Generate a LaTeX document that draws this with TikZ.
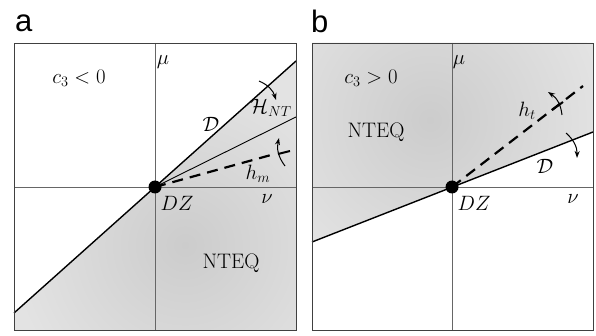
\documentclass[tikz,border=0pt]{standalone}
\usepackage{fontspec}
\newfontfamily\panelfont{Liberation Sans}
\usetikzlibrary{arrows.meta}
\tikzset{
  frame/.style={draw=black!75, line width=0.9pt},
  axis/.style={draw=black!60, line width=0.8pt},
  dline/.style={draw=black, line width=1.4pt},
  hline/.style={draw=black, line width=0.9pt},
  dashline/.style={draw=black, line width=2.2pt, dash pattern=on 11pt off 7pt},
  tickmark/.style={draw=black, line width=2pt},
  turn/.style={draw=black, line width=1pt, -{Stealth[length=7pt,width=5pt]}},
  lab/.style={font=\fontsize{20.74}{25}\selectfont, inner sep=0pt},
  panel/.style={font=\panelfont\fontsize{31}{34}\selectfont, inner sep=0pt, anchor=base west},
  dotstyle/.style={circle, fill=black, minimum size=13pt, inner sep=0pt}
}
\begin{document}
\begin{tikzpicture}[x=1pt,y=-1pt]
\useasboundingbox (0,0) rectangle (596,336);
% ---------------- panel a ----------------
\coordinate (aTL) at (14,43);
\coordinate (aBR) at (296,330);
\coordinate (aO) at (155,187);
\coordinate (aDl) at (14,313);
\coordinate (aDr) at (296,61);
\coordinate (aH) at (296,117);
\coordinate (aM) at (271,155);
\begin{scope}
  \clip (aDl) -- (aDr) -- (296,330) -- (14,330) -- cycle;
  \fill[gray!22] (aDl) -- (aDr) -- (296,330) -- (14,330) -- cycle;
  \shade[inner color=gray!40, outer color=gray!22] (185,245) circle[radius=175];
\end{scope}
\draw[axis] (155,43) -- (155,330);
\draw[axis] (14,187) -- (296,187);
\draw[dline] (aDl) -- (aDr);
\draw[hline] (aO) -- (aH);
\draw[dashline] (aO) -- (aM);
\draw[tickmark] (278,154) -- (290,151);
\draw[turn] (285,166) to[bend left=25] (279,138);
\draw[turn] (259,81) to[bend left=25] (276,100);
\draw[frame] (aTL) rectangle (aBR);
\node[dotstyle] (aDZ) at (aO) {};
\node[panel] (la) at (15,32) {a};
\node[lab] (ac) at (79,78) {$c_3<0$};
\node[lab] (amu) at (163,62) {$\mu$};
\node[lab] (aD) at (211,124) {$\mathcal{D}$};
\node[lab] (aHNT) at (271,108) {$\mathcal{H}_{NT}$};
\node[lab] (ahm) at (258,174) {$h_m$};
\node[lab] (aDZl) at (177,203) {$DZ$};
\node[lab] (anu) at (267,199) {$\nu$};
\node[lab, font=\fontsize{21}{25}\selectfont] (aN) at (231,263) {NTEQ};
% ---------------- panel b ----------------
\coordinate (bTL) at (312,43);
\coordinate (bBR) at (593,330);
\coordinate (bO) at (452,187);
\coordinate (bDl) at (312,242);
\coordinate (bDr) at (593,132);
\coordinate (bT) at (583,86);
\begin{scope}
  \clip (bDl) -- (bDr) -- (593,43) -- (312,43) -- cycle;
  \fill[gray!22] (bDl) -- (bDr) -- (593,43) -- (312,43) -- cycle;
  \shade[inner color=gray!40, outer color=gray!22] (430,120) circle[radius=175];
\end{scope}
\draw[axis] (452,43) -- (452,330);
\draw[axis] (312,187) -- (593,187);
\draw[dline] (bDl) -- (bDr);
\draw[dashline] (bO) -- (bT);
\draw[tickmark] (552,110) -- (563,102);
\draw[turn] (562,115) to[bend right=25] (548,92);
\draw[turn] (566,133) to[bend left=25] (577,158);
\draw[frame] (bTL) rectangle (bBR);
\node[dotstyle] (bDZ) at (bO) {};
\node[panel] (lb) at (311,33) {b};
\node[lab] (bc) at (371,78) {$c_3>0$};
\node[lab, font=\fontsize{21}{25}\selectfont] (bN) at (376,132) {NTEQ};
\node[lab] (bmu) at (459,62) {$\mu$};
\node[lab] (bht) at (527,111) {$h_t$};
\node[lab] (bD) at (545,166) {$\mathcal{D}$};
\node[lab] (bDZl) at (474,203) {$DZ$};
\node[lab] (bnu) at (573,199) {$\nu$};
\end{tikzpicture}
\end{document}
